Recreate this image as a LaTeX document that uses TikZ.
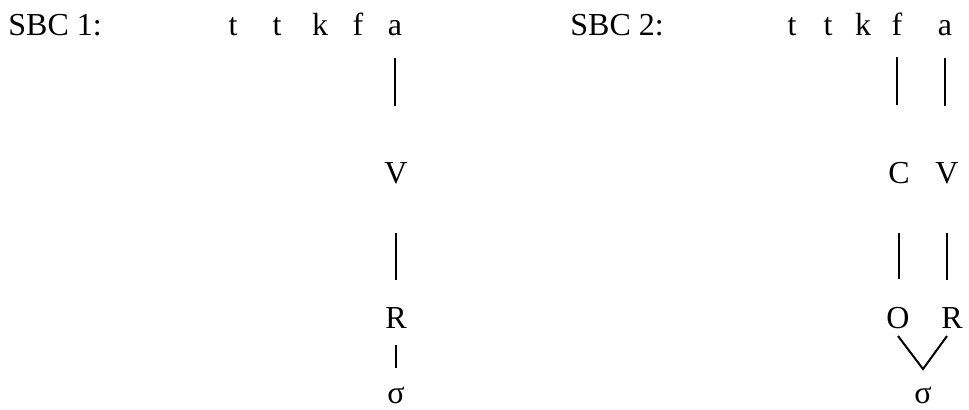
\documentclass[tikz,border=0pt]{standalone}
\usepackage{fontspec}
\setmainfont{Liberation Serif}
\begin{document}
\begin{tikzpicture}[x=0.5pt,y=-0.5pt,
  lbl/.style={anchor=base,inner sep=0pt,font=\fontsize{16}{19}\selectfont},
  conn/.style={line width=1pt}]
\useasboundingbox (0,0) rectangle (969,409);
% top row
\node[lbl,anchor=base west] (sbc1) at (8,35) {SBC 1:};
\node[lbl] (t1a) at (233,35) {t};
\node[lbl] (t1b) at (277,35) {t};
\node[lbl] (k1) at (320,35) {k};
\node[lbl] (f1) at (358,35) {f};
\node[lbl] (a1) at (395,35) {a};
\node[lbl,anchor=base west] (sbc2) at (570,35) {SBC 2:};
\node[lbl] (t2a) at (792,35) {t};
\node[lbl] (t2b) at (828,35) {t};
\node[lbl] (k2) at (863,35) {k};
\node[lbl] (f2) at (897,35) {f};
\node[lbl] (a2) at (945,35) {a};
% second row
\node[lbl] (V1) at (396,183) {V};
\node[lbl] (C2) at (899,183) {C};
\node[lbl] (V2) at (947,183) {V};
% third row
\node[lbl] (R1) at (396,328) {R};
\node[lbl] (O2) at (898,328) {O};
\node[lbl] (R2) at (952,328) {R};
% fourth row
\node[lbl] (s1) at (396,403) {σ};
\node[lbl] (s2) at (923,403) {σ};
% connectors left
\draw[conn,shorten <=11pt,shorten >=28pt] (a1.south) -- (a1.south |- V1.north);
\draw[conn,shorten <=24.5pt,shorten >=13.5pt] (V1.south) -- (V1.south |- R1.north);
\draw[conn,shorten <=8.5pt,shorten >=9pt] (R1.south) -- (R1.south |- s1.north);
% connectors right
\draw[conn,shorten <=11pt,shorten >=28pt] (f2.south) -- (f2.south |- C2.north);
\draw[conn,shorten <=11pt,shorten >=28pt] (a2.south) -- (a2.south |- V2.north);
\draw[conn,shorten <=24.5pt,shorten >=13.5pt] (C2.south) -- (C2.south |- O2.north);
\draw[conn,shorten <=24.5pt,shorten >=13.5pt] (V2.south) -- (V2.south |- R2.north);
\draw[conn] ([yshift=-4pt]O2.base) -- ([yshift=17pt]s2.base) -- ([xshift=-2.5pt,yshift=-4pt]R2.base);
\end{tikzpicture}
\end{document}
